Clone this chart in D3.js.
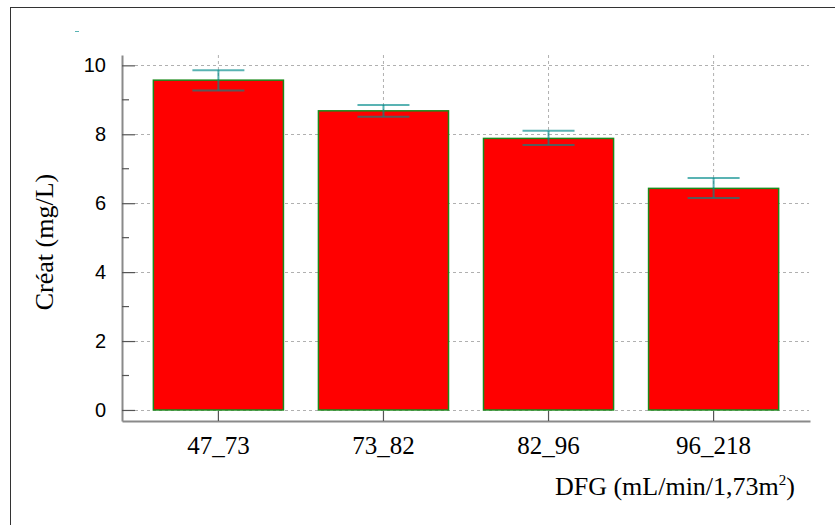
<!DOCTYPE html>
<html lang="en">
<head>
<meta charset="UTF-8">
<title>Créat par DFG</title>
<script src="https://d3js.org/d3.v7.min.js"></script>
<style>
    body { margin: 0; background: #fff; }
    .axis path { stroke: #8a8a8a; stroke-width: 2px; }
    .axis line { stroke: #555; stroke-width: 1.2px; }
    .y.axis text { font-family: "Liberation Sans", Arial, sans-serif; font-size: 20px; fill: #000; }
    .x.axis text { font-family: "Liberation Serif", "Times New Roman", serif; font-size: 25px; fill: #000; }
    .grid line { stroke: #b0b0b0; stroke-width: 1px; stroke-dasharray: 3,3; }
    .label { font-family: "Liberation Serif", "Times New Roman", serif; font-size: 26px; fill: #000; }
</style>
</head>
<body>
<script>
// data
const categories = ["47_73", "73_82", "82_96", "96_218"]
const means = [9.57, 8.68, 7.88, 6.43]
const errLow = [9.27, 8.51, 7.69, 6.15]
const errHigh = [9.86, 8.85, 8.10, 6.73]
const yTicks = [0, 2, 4, 6, 8, 10]
const yMinor = [1, 3, 5, 7, 9]

const W = 835, H = 525
const MARGIN = {TOP: 55, LEFT: 122}
const WIDTH = 688, HEIGHT = 366

const svg = d3.select("body").append("svg")
    .attr("width", W)
    .attr("height", H)

// outer frame
svg.append("rect")
    .attr("x", 10.5).attr("y", 7.5)
    .attr("width", 840).attr("height", 540)
    .attr("fill", "none")
    .attr("stroke", "#333")
    .attr("stroke-width", 1)

const g = svg.append("g")
    .attr("transform", `translate(${MARGIN.LEFT}, ${MARGIN.TOP})`)

const x = d3.scaleBand().domain(categories).range([0, WIDTH])
    .paddingInner(0.212).paddingOuter(0.19)
const y = d3.scaleLinear().domain([-0.32, 10.3]).range([HEIGHT, 0])

// grid
const grid = g.append("g").attr("class", "grid")
grid.selectAll(".hg").data(yTicks).enter().append("line")
    .attr("x1", 13).attr("x2", WIDTH - 1)
    .attr("y1", d => Math.round(y(d)) + 0.5).attr("y2", d => Math.round(y(d)) + 0.5)
grid.selectAll(".vg").data(categories).enter().append("line")
    .attr("x1", d => x(d) + x.bandwidth() / 2).attr("x2", d => x(d) + x.bandwidth() / 2)
    .attr("y1", 0).attr("y2", HEIGHT - 10)

// bars
g.selectAll(".bar").data(means).enter().append("rect")
    .attr("class", "bar")
    .attr("x", (d, i) => x(categories[i]))
    .attr("width", x.bandwidth())
    .attr("y", d => y(d))
    .attr("height", d => y(0) - y(d))
    .attr("fill", "#ff0000")
    .attr("stroke", "#1a8a1a")
    .attr("stroke-width", 1.5)

// error bars
const eb = g.append("g")
    .attr("stroke", "#008b8b")
    .attr("stroke-opacity", 0.65)
    .attr("stroke-width", 2)
categories.forEach((c, i) => {
    const cx = x(c) + x.bandwidth() / 2
    eb.append("line").attr("x1", cx).attr("x2", cx)
        .attr("y1", y(errLow[i])).attr("y2", y(errHigh[i]))
    eb.append("line").attr("x1", cx - 26).attr("x2", cx + 26)
        .attr("y1", y(errHigh[i])).attr("y2", y(errHigh[i]))
    eb.append("line").attr("x1", cx - 26).attr("x2", cx + 26)
        .attr("y1", y(errLow[i])).attr("y2", y(errLow[i]))
})

// axes
g.append("g")
    .attr("class", "y axis")
    .call(d3.axisLeft(y).tickValues(yTicks).tickSizeInner(-13).tickSizeOuter(0).tickPadding(16))
g.select(".y.axis").selectAll(".minor").data(yMinor).enter().append("line")
    .attr("class", "minor")
    .attr("x1", 0).attr("x2", 7)
    .attr("y1", d => y(d)).attr("y2", d => y(d))

g.append("g")
    .attr("class", "x axis")
    .attr("transform", `translate(0, ${HEIGHT})`)
    .call(d3.axisBottom(x).tickSizeInner(-10).tickSizeOuter(0).tickPadding(15))

// labels
svg.append("text")
    .attr("class", "label")
    .attr("transform", "translate(53, 242) rotate(-90)")
    .attr("text-anchor", "middle")
    .text("Créat (mg/L)")

const xl = svg.append("text")
    .attr("class", "label")
    .attr("x", 795).attr("y", 495)
    .attr("text-anchor", "end")
xl.append("tspan").text("DFG (mL/min/1,73m")
xl.append("tspan").attr("dy", -10).attr("font-size", 15).text("2")
xl.append("tspan").attr("dy", 10).text(")")

// small legend mark top-left
svg.append("line")
    .attr("x1", 75).attr("x2", 79).attr("y1", 31.5).attr("y2", 31.5)
    .attr("stroke", "#008b8b").attr("stroke-opacity", 0.65).attr("stroke-width", 1)
</script>
</body>
</html>
